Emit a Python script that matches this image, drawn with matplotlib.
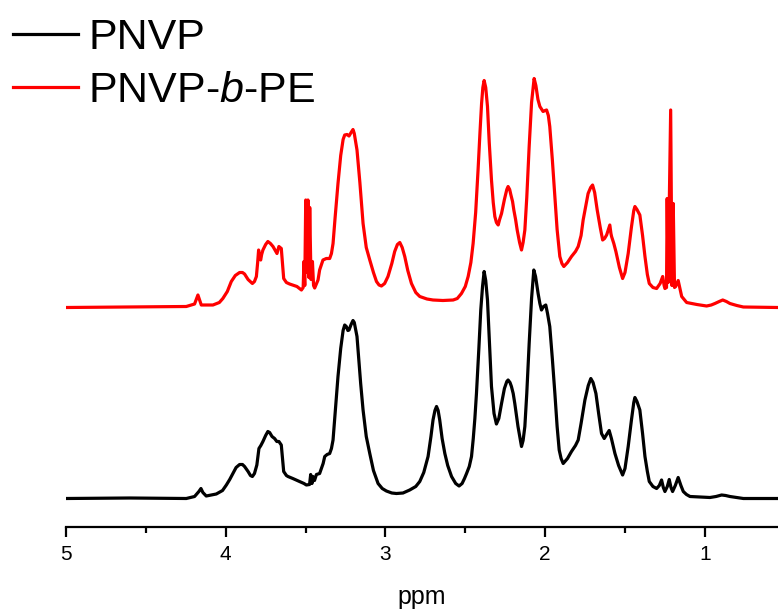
import numpy as np
import matplotlib
matplotlib.use("Agg")
import matplotlib.pyplot as plt
from matplotlib.ticker import MultipleLocator

plt.rcParams['font.family'] = ['Liberation Sans', 'DejaVu Sans']
plt.rcParams['mathtext.fontset'] = 'custom'
plt.rcParams['mathtext.rm'] = 'Liberation Sans'
plt.rcParams['mathtext.it'] = 'Liberation Sans:italic'

# 1H NMR traces: (ppm, intensity above own baseline)
pnvp_trace = [
    (5.00, 0), (4.60, 0.5), (4.247, 0), (4.195, 2), (4.168, 7), (4.155, 10), (4.143, 6),
    (4.122, 2.5), (4.059, 4.5), (4.02, 8), (3.996, 13.5), (3.975, 19), (3.955, 25),
    (3.935, 31), (3.913, 34), (3.895, 34), (3.882, 32), (3.86, 27), (3.845, 23),
    (3.833, 22), (3.82, 25), (3.805, 33.5), (3.792, 50), (3.78, 53), (3.767, 57),
    (3.75, 63), (3.736, 67), (3.725, 66), (3.71, 62), (3.694, 60), (3.68, 57),
    (3.667, 57), (3.652, 53.5), (3.637, 27), (3.62, 23), (3.610, 22), (3.58, 20),
    (3.537, 17), (3.51, 15), (3.495, 13.5), (3.475, 14), (3.468, 24), (3.460, 15),
    (3.454, 22), (3.444, 18), (3.432, 24), (3.412, 25), (3.39, 35), (3.380, 42),
    (3.365, 44), (3.349, 45), (3.338, 50), (3.328, 58.5), (3.315, 85), (3.297, 122),
    (3.28, 150), (3.265, 168), (3.255, 173.5), (3.245, 172), (3.235, 168),
    (3.228, 168.5), (3.215, 174), (3.203, 178), (3.195, 176), (3.178, 162),
    (3.165, 135), (3.155, 115), (3.140, 88.5), (3.12, 62), (3.098, 45), (3.075, 28),
    (3.046, 15), (3.02, 10), (2.994, 7.5), (2.96, 5.5), (2.931, 5), (2.89, 5.5),
    (2.848, 8.5), (2.81, 12), (2.785, 17), (2.76, 26), (2.733, 42), (2.715, 62),
    (2.702, 78.5), (2.69, 88), (2.680, 92), (2.67, 88), (2.660, 78.5), (2.645, 60),
    (2.628, 45), (2.61, 33), (2.586, 22), (2.56, 15), (2.539, 12.5), (2.52, 15),
    (2.505, 20), (2.492, 25), (2.475, 32), (2.461, 42), (2.45, 60), (2.44, 80),
    (2.430, 105), (2.415, 150), (2.403, 188.5), (2.392, 212), (2.382, 227),
    (2.372, 218), (2.361, 198.5), (2.35, 160), (2.336, 112), (2.32, 85),
    (2.305, 74.5), (2.29, 80), (2.273, 95), (2.255, 110), (2.24, 117),
    (2.232, 118.5), (2.22, 116), (2.211, 112), (2.20, 105), (2.190, 95),
    (2.17, 72), (2.148, 52), (2.138, 58), (2.127, 72), (2.115, 105), (2.100, 155),
    (2.085, 200), (2.071, 228.5), (2.06, 222), (2.044, 205), (2.033, 195),
    (2.023, 188.5), (2.01, 192), (1.996, 193.5), (1.985, 185), (1.971, 172),
    (1.955, 140), (1.939, 105), (1.925, 72), (1.912, 48.5), (1.90, 40), (1.887, 35),
    (1.86, 40), (1.835, 47), (1.81, 53), (1.793, 58.5), (1.775, 75), (1.751, 98.5),
    (1.73, 113), (1.714, 120), (1.70, 116), (1.682, 105), (1.665, 85), (1.647, 65),
    (1.630, 60), (1.615, 64), (1.599, 68), (1.585, 60), (1.563, 45), (1.54, 33),
    (1.515, 23.5), (1.50, 30), (1.480, 52), (1.46, 78), (1.445, 96), (1.438, 101),
    (1.425, 97), (1.407, 88.5), (1.39, 65), (1.375, 42), (1.36, 27), (1.348, 17),
    (1.325, 12), (1.302, 10), (1.285, 13), (1.271, 18.5), (1.260, 11), (1.250, 7),
    (1.235, 12), (1.223, 19), (1.212, 11), (1.202, 7), (1.185, 13), (1.167, 21),
    (1.15, 13), (1.135, 7), (1.115, 4), (1.093, 2), (1.03, 1.5), (0.968, 1),
    (0.93, 2), (0.895, 3.5), (0.87, 3), (0.843, 2), (0.80, 1), (0.759, 0), (0.542, 0),
]

block_trace = [
    (5.00, 0), (4.60, 0.5), (4.247, 1), (4.195, 3.5), (4.174, 12.5), (4.153, 2.5),
    (4.080, 2.5), (4.04, 5), (4.018, 9), (3.99, 16), (3.965, 26), (3.94, 32),
    (3.913, 35), (3.895, 35), (3.882, 33.5), (3.86, 28), (3.833, 24), (3.82, 26),
    (3.808, 31), (3.80, 45), (3.794, 57.5), (3.788, 50), (3.781, 47.5), (3.775, 53),
    (3.767, 57.5), (3.75, 63), (3.736, 66), (3.72, 64), (3.704, 61), (3.69, 57),
    (3.679, 54), (3.672, 58), (3.667, 61), (3.652, 59), (3.645, 45), (3.637, 29),
    (3.62, 25), (3.600, 23.5), (3.554, 21), (3.526, 17.5), (3.515, 20), (3.510, 46),
    (3.505, 22), (3.499, 107.5), (3.492, 35), (3.485, 107.5), (3.479, 30),
    (3.474, 100), (3.466, 28), (3.457, 46), (3.450, 22), (3.443, 19.5),
    (3.422, 27.5), (3.412, 37.5), (3.391, 47.5), (3.37, 49), (3.349, 49),
    (3.338, 54), (3.328, 64), (3.315, 90), (3.297, 124), (3.28, 152), (3.265, 168),
    (3.255, 172.5), (3.24, 173), (3.228, 171.5), (3.215, 175), (3.203, 178),
    (3.195, 174), (3.178, 157.5), (3.16, 125), (3.140, 84), (3.12, 60),
    (3.098, 47.5), (3.075, 35), (3.056, 26), (3.04, 22.5), (3.025, 21.5),
    (3.005, 24), (2.984, 31), (2.96, 44), (2.942, 56), (2.925, 63), (2.910, 65),
    (2.895, 60), (2.879, 51), (2.86, 37), (2.837, 24), (2.81, 15), (2.785, 11),
    (2.74, 8.5), (2.702, 7.5), (2.64, 7), (2.576, 7.5), (2.55, 9), (2.524, 14),
    (2.50, 21), (2.482, 31), (2.465, 45), (2.451, 64), (2.435, 95), (2.420, 137.5),
    (2.408, 175), (2.398, 204), (2.39, 220), (2.382, 227), (2.372, 220),
    (2.361, 201), (2.35, 165), (2.336, 127.5), (2.325, 105), (2.315, 91),
    (2.305, 85), (2.294, 82.5), (2.285, 88), (2.273, 94), (2.255, 108), (2.24, 118),
    (2.232, 121), (2.222, 118), (2.215, 113), (2.204, 106), (2.196, 97.5),
    (2.185, 88), (2.175, 77.5), (2.16, 65), (2.148, 57.5), (2.138, 65),
    (2.127, 77.5), (2.115, 110), (2.100, 161), (2.085, 205), (2.069, 229),
    (2.058, 222), (2.045, 208), (2.033, 201), (2.013, 196), (2.00, 197),
    (1.991, 197.5), (1.98, 192), (1.971, 181), (1.955, 148), (1.939, 111),
    (1.925, 78), (1.908, 51), (1.895, 44), (1.883, 41), (1.86, 45), (1.835, 51),
    (1.81, 56), (1.793, 61), (1.775, 72), (1.762, 87.5), (1.745, 102), (1.731, 114),
    (1.715, 120), (1.703, 122.5), (1.69, 115), (1.674, 97.5), (1.655, 80),
    (1.640, 67.5), (1.628, 69), (1.615, 72.5), (1.60, 80), (1.595, 82.5),
    (1.588, 74), (1.584, 71), (1.57, 64), (1.557, 56), (1.535, 40), (1.515, 29),
    (1.50, 35), (1.480, 54), (1.46, 80), (1.445, 97), (1.438, 101), (1.425, 98),
    (1.407, 92.5), (1.39, 72), (1.375, 51), (1.36, 33), (1.348, 24), (1.325, 20),
    (1.302, 19), (1.28, 24), (1.264, 31), (1.255, 22), (1.250, 19), (1.240, 20),
    (1.236, 109), (1.230, 25), (1.214, 197.5), (1.206, 22), (1.198, 104),
    (1.190, 20), (1.183, 21), (1.167, 27), (1.155, 18), (1.145, 11), (1.114, 5),
    (1.05, 3), (0.989, 1.5), (0.96, 2.5), (0.937, 4), (0.91, 6), (0.888, 7.5),
    (0.865, 6), (0.843, 4), (0.80, 2), (0.759, 0.5), (0.542, 0),
]

labels = ['PNVP', 'PNVP-$\\mathit{b}$-PE']
colors = ['black', 'red']
offsets = [0, 191]

fig = plt.figure(figsize=(7.78, 6.15), dpi=100)
ax = fig.add_axes([66 / 778, 88 / 615, 1 - 66 / 778, 527 / 615])

lines = []
for trace, col, off in zip([pnvp_trace, block_trace], colors, offsets):
    ppm, inten = np.array(trace).T
    ln, = ax.plot(ppm, inten + off, color=col, lw=2.3, solid_joinstyle='round')
    lines.append(ln)

ax.set_xlim(5.0, 0.542)
ax.set_ylim(-28.5, 498.5)
ax.set_yticks([])
for s in ['top', 'right', 'left']:
    ax.spines[s].set_visible(False)
ax.spines['bottom'].set_linewidth(1.6)
ax.xaxis.set_major_locator(MultipleLocator(1))
ax.xaxis.set_minor_locator(MultipleLocator(0.5))
ax.tick_params(axis='x', which='major', direction='out', length=7, width=1.6,
               labelsize=15, pad=6)
ax.tick_params(axis='x', which='minor', direction='out', length=4.5, width=1.6)
ax.set_xlabel('ppm', fontsize=18, labelpad=15)

ax.legend(lines, labels, loc='upper left', bbox_to_anchor=(13 / 778, 1 - 18 / 615),
          bbox_transform=fig.transFigure, frameon=False, fontsize=31,
          borderpad=0, borderaxespad=0, handlelength=1.5, handletextpad=0.25,
          labelspacing=0.3)

fig.savefig('out.png', dpi=100)
